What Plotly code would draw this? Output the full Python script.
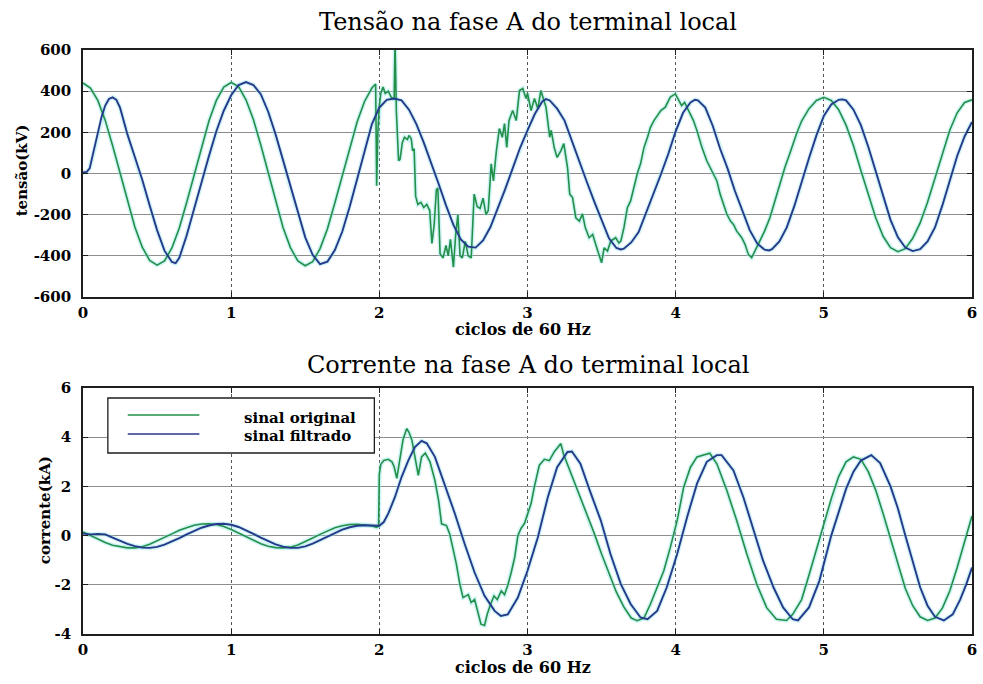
import plotly.graph_objects as go

# ---------------- data: phase-A voltage (kV) at the local terminal ----------------
volt_orig_t = [
    0.00, 0.05, 0.10, 0.15, 0.20, 0.25, 0.30, 0.35, 0.40, 0.45, 0.50, 0.55, 0.60, 0.65,
    0.70, 0.75, 0.80, 0.85, 0.90, 0.95, 1.00, 1.05, 1.10, 1.15, 1.20, 1.25, 1.30, 1.35,
    1.40, 1.45, 1.50, 1.55, 1.60, 1.65, 1.70, 1.75, 1.80, 1.85, 1.90, 1.95, 1.975, 1.982,
    1.99, 2.00, 2.01, 2.025, 2.04, 2.06, 2.08, 2.10, 2.106, 2.115, 2.13, 2.14, 2.155, 2.17,
    2.19, 2.20, 2.215, 2.225, 2.235, 2.245, 2.26, 2.28, 2.30, 2.32, 2.34, 2.355, 2.37, 2.385,
    2.395, 2.41, 2.43, 2.45, 2.465, 2.48, 2.50, 2.515, 2.53, 2.545, 2.56, 2.58, 2.60, 2.62,
    2.64, 2.66, 2.68, 2.70, 2.72, 2.735, 2.755, 2.77, 2.79, 2.80, 2.81, 2.83, 2.845, 2.86,
    2.875, 2.90, 2.924, 2.946, 2.968, 2.99, 3.00, 3.024, 3.047, 3.07, 3.09, 3.125, 3.15, 3.16,
    3.18, 3.20, 3.226, 3.245, 3.27, 3.285, 3.304, 3.326, 3.35, 3.371, 3.39, 3.416, 3.44, 3.46,
    3.483, 3.50, 3.517, 3.54, 3.562, 3.595, 3.617, 3.63, 3.651, 3.674, 3.696, 3.719, 3.741, 3.763,
    3.786, 3.81, 3.83, 3.853, 3.876, 3.90, 3.93, 3.964, 3.998, 4.02, 4.04, 4.06, 4.077, 4.10,
    4.12, 4.144, 4.177, 4.21, 4.245, 4.278, 4.30, 4.32, 4.345, 4.37, 4.39, 4.412, 4.446, 4.468,
    4.49, 4.513, 4.535, 4.569, 4.60, 4.636, 4.67, 4.70, 4.737, 4.77, 4.815, 4.85, 4.90, 4.95,
    5.00, 5.05, 5.10, 5.15, 5.20, 5.25, 5.30, 5.35, 5.40, 5.45, 5.50, 5.55, 5.60, 5.65,
    5.70, 5.75, 5.80, 5.85, 5.90, 5.95, 6.00,
]
volt_orig = [
    440, 415, 355, 258, 135, 0, -135, -260, -358, -422, -445, -425, -362, -265,
    -140, -5, 130, 255, 355, 420, 442, 422, 358, 262, 138, 2, -135, -262,
    -360, -425, -448, -428, -365, -268, -142, -8, 128, 250, 350, 415, 435, -60,
    200, 330, 390, 420, 389, 400, 371, 360, 650, 300, 62, 70, 150, 176,
    165, 185, 170, 110, 120, -110, -150, -140, -165, -150, -180, -340, -250, -80,
    -70, -390, -410, -350, -400, -320, -455, -300, -200, -400, -410, -330, -400, -410,
    -100, -160, -170, -120, -200, -180, 47, -36, 110, 176, 218, 176, 242, 127,
    257, 306, 257, 403, 413, 364, 390, 306, 364, 315, 403, 322, 176, 210,
    127, 78, 111, 145, 29, -100, -117, -215, -231, -196, -263, -312, -296, -344,
    -392, -434, -361, -377, -328, -312, -337, -328, -263, -166, -133, -68, 0, 47,
    127, 176, 224, 257, 280, 306, 322, 371, 387, 355, 330, 345, 322, 290,
    257, 208, 127, 62, 13, -36, -100, -148, -197, -231, -247, -280, -312, -344,
    -392, -409, -377, -328, -280, -215, -133, -52, 29, 96, 192, 255, 315, 355,
    370, 355, 310, 235, 135, 15, -105, -215, -305, -360, -380, -365, -315, -240,
    -140, -20, 100, 210, 295, 345, 358,
]

volt_filt_t = [
    0.00, 0.025, 0.045, 0.07, 0.10, 0.125, 0.15, 0.175, 0.20, 0.225, 0.25, 0.30, 0.35, 0.40,
    0.45, 0.50, 0.55, 0.60, 0.625, 0.65, 0.70, 0.75, 0.80, 0.85, 0.90, 0.95, 1.00, 1.05,
    1.10, 1.15, 1.20, 1.25, 1.30, 1.35, 1.40, 1.45, 1.50, 1.55, 1.60, 1.65, 1.70, 1.75,
    1.80, 1.85, 1.90, 1.95, 2.00, 2.05, 2.10, 2.15, 2.20, 2.25, 2.30, 2.35, 2.40, 2.45,
    2.50, 2.55, 2.60, 2.65, 2.70, 2.75, 2.80, 2.85, 2.90, 2.95, 3.00, 3.05, 3.10, 3.125,
    3.15, 3.20, 3.25, 3.30, 3.35, 3.40, 3.45, 3.50, 3.55, 3.60, 3.63, 3.65, 3.70, 3.75,
    3.80, 3.85, 3.90, 3.95, 4.00, 4.05, 4.10, 4.13, 4.15, 4.20, 4.25, 4.30, 4.35, 4.40,
    4.45, 4.50, 4.55, 4.60, 4.63, 4.65, 4.70, 4.75, 4.80, 4.85, 4.90, 4.95, 5.00, 5.05,
    5.10, 5.125, 5.15, 5.20, 5.25, 5.30, 5.35, 5.40, 5.45, 5.50, 5.55, 5.60, 5.65, 5.70,
    5.75, 5.80, 5.85, 5.90, 5.95, 6.00,
]
volt_filt = [
    5, 8, 25, 100, 200, 275, 330, 362, 370, 358, 320, 190, 80, -30,
    -155, -275, -375, -430, -436, -410, -300, -170, -45, 85, 205, 305, 380, 430,
    444, 430, 385, 300, 190, 65, -70, -195, -310, -395, -440, -428, -372, -282,
    -162, -28, 110, 240, 320, 358, 364, 355, 310, 240, 150, 55, -50, -155,
    -250, -320, -355, -360, -325, -260, -170, -75, 25, 125, 210, 290, 350, 362,
    355, 315, 257, 155, 55, -40, -135, -230, -315, -362, -369, -365, -335, -285,
    -195, -100, -5, 95, 205, 295, 345, 358, 355, 320, 232, 120, 25, -85,
    -185, -275, -340, -370, -374, -368, -330, -262, -160, -40, 75, 185, 280, 335,
    358, 360, 355, 310, 235, 130, 10, -115, -225, -310, -360, -377, -368, -330,
    -262, -155, -35, 85, 180, 250,
]

# ---------------- data: phase-A current (kA) at the local terminal ----------------
curr_orig_t = [
    0.00, 0.05, 0.10, 0.15, 0.20, 0.25, 0.30, 0.35, 0.40, 0.45, 0.50, 0.55, 0.60, 0.65,
    0.70, 0.75, 0.80, 0.85, 0.90, 0.95, 1.00, 1.05, 1.10, 1.15, 1.20, 1.25, 1.30, 1.35,
    1.40, 1.45, 1.50, 1.55, 1.60, 1.65, 1.70, 1.75, 1.80, 1.85, 1.90, 1.95, 1.98, 1.995,
    2.00, 2.01, 2.03, 2.06, 2.085, 2.10, 2.118, 2.14, 2.16, 2.185, 2.20, 2.22, 2.24, 2.263,
    2.285, 2.31, 2.342, 2.375, 2.40, 2.42, 2.453, 2.475, 2.50, 2.52, 2.543, 2.565, 2.60, 2.62,
    2.643, 2.665, 2.686, 2.71, 2.728, 2.75, 2.774, 2.796, 2.823, 2.845, 2.868, 2.89, 2.913, 2.935,
    2.957, 2.98, 3.00, 3.024, 3.047, 3.07, 3.08, 3.114, 3.147, 3.18, 3.20, 3.225, 3.244, 3.27,
    3.30, 3.35, 3.40, 3.45, 3.50, 3.55, 3.60, 3.65, 3.70, 3.74, 3.786, 3.83, 3.875, 3.92,
    3.964, 4.01, 4.054, 4.10, 4.144, 4.21, 4.23, 4.278, 4.345, 4.412, 4.48, 4.547, 4.614, 4.68,
    4.748, 4.79, 4.85, 4.90, 4.95, 5.00, 5.05, 5.10, 5.15, 5.20, 5.25, 5.30, 5.35, 5.40,
    5.45, 5.50, 5.55, 5.60, 5.65, 5.70, 5.75, 5.80, 5.85, 5.90, 5.95, 6.00,
]
curr_orig = [
    0.15, 0.00, -0.15, -0.28, -0.39, -0.46, -0.50, -0.50, -0.45, -0.35, -0.22, -0.08, 0.07, 0.22,
    0.33, 0.42, 0.47, 0.48, 0.45, 0.37, 0.25, 0.10, -0.05, -0.20, -0.33, -0.43, -0.49, -0.50,
    -0.47, -0.38, -0.25, -0.10, 0.05, 0.20, 0.32, 0.40, 0.45, 0.46, 0.44, 0.40, 0.33, 0.38,
    2.50, 2.90, 3.05, 3.10, 3.00, 2.80, 2.33, 3.20, 3.90, 4.35, 4.20, 3.88, 3.20, 2.45,
    3.20, 3.35, 3.00, 2.24, 1.43, 0.48, 0.41, 0.07, -0.61, -1.16, -1.97, -2.52, -2.40, -2.72,
    -2.60, -3.06, -3.60, -3.65, -3.20, -2.80, -2.45, -2.60, -2.25, -2.40, -2.00, -1.50, -0.90, 0.00,
    0.30, 0.50, 0.90, 1.30, 2.00, 2.65, 2.86, 3.10, 3.05, 3.40, 3.55, 3.74, 3.30, 2.90,
    2.40, 1.60, 0.85, 0.10, -0.75, -1.55, -2.30, -2.90, -3.35, -3.46, -3.35, -2.78, -2.10, -1.43,
    -0.48, 0.61, 1.97, 2.78, 3.20, 3.33, 3.35, 2.92, 1.84, 0.61, -0.75, -1.97, -2.93, -3.40,
    -3.45, -3.20, -2.60, -1.60, -0.55, 0.50, 1.50, 2.40, 3.00, 3.20, 3.10, 2.60, 1.85, 0.90,
    -0.15, -1.20, -2.15, -2.85, -3.30, -3.45, -3.35, -2.95, -2.25, -1.30, -0.25, 0.80,
]

curr_filt_t = [
    0.00, 0.05, 0.10, 0.15, 0.20, 0.25, 0.30, 0.35, 0.40, 0.45, 0.50, 0.55, 0.60, 0.65,
    0.70, 0.75, 0.80, 0.85, 0.90, 0.95, 1.00, 1.05, 1.10, 1.15, 1.20, 1.25, 1.30, 1.35,
    1.40, 1.45, 1.50, 1.55, 1.60, 1.65, 1.70, 1.75, 1.80, 1.85, 1.90, 1.95, 2.00, 2.03,
    2.06, 2.105, 2.15, 2.196, 2.24, 2.285, 2.32, 2.375, 2.44, 2.51, 2.576, 2.643, 2.71, 2.778,
    2.82, 2.867, 2.935, 3.00, 3.07, 3.137, 3.20, 3.27, 3.30, 3.357, 3.42, 3.495, 3.56, 3.63,
    3.696, 3.763, 3.81, 3.875, 3.94, 4.01, 4.077, 4.144, 4.21, 4.278, 4.31, 4.39, 4.457, 4.525,
    4.59, 4.66, 4.725, 4.79, 4.826, 4.90, 4.97, 5.05, 5.10, 5.15, 5.20, 5.25, 5.32, 5.38,
    5.45, 5.50, 5.55, 5.60, 5.65, 5.70, 5.75, 5.81, 5.87, 5.92, 5.96, 6.00,
]
curr_filt = [
    0.08, 0.05, 0.07, 0.05, -0.08, -0.22, -0.34, -0.43, -0.49, -0.50, -0.46, -0.37, -0.25, -0.10,
    0.05, 0.20, 0.32, 0.41, 0.47, 0.48, 0.44, 0.35, 0.22, 0.07, -0.08, -0.23, -0.36, -0.45,
    -0.50, -0.50, -0.44, -0.33, -0.19, -0.04, 0.11, 0.24, 0.34, 0.40, 0.42, 0.40, 0.40, 0.55,
    0.89, 1.56, 2.38, 3.06, 3.60, 3.85, 3.75, 3.20, 2.11, 0.89, -0.34, -1.50, -2.45, -3.06,
    -3.27, -3.20, -2.52, -1.43, -0.07, 1.56, 2.78, 3.40, 3.42, 2.92, 1.84, 0.61, -0.75, -1.97,
    -2.78, -3.33, -3.40, -3.06, -2.10, -0.75, 0.75, 2.11, 3.00, 3.27, 3.27, 2.65, 1.56, 0.20,
    -1.02, -2.10, -2.92, -3.40, -3.45, -2.92, -1.84, 0.00, 1.00, 1.90, 2.60, 3.05, 3.27, 2.95,
    2.00, 1.10, 0.00, -1.10, -2.10, -2.85, -3.30, -3.45, -3.20, -2.60, -2.00, -1.30,
]

x_ticks = [0, 1, 2, 3, 4, 5, 6]
x_tick_labels = ["0", "1", "2", "3", "4", "5", "6"]
volt_ticks = [-600, -400, -200, 0, 200, 400, 600]
volt_tick_labels = ["-600", "-400", "-200", "0", "200", "400", "600"]
curr_ticks = [-4, -2, 0, 2, 4, 6]
curr_tick_labels = ["-4", "-2", "0", "2", "4", "6"]

titles = ["Tensão na fase A do terminal local", "Corrente na fase A do terminal local"]
x_label = "ciclos de 60 Hz"
y_labels = ["tensão(kV)", "corrente(kA)"]
legend_names = ["sinal original", "sinal filtrado"]

# ---------------- styling ----------------
W, H = 983, 684
ML, MR, MT, MB = 83, 6, 50, 50
PW, PH = W - ML - MR, H - MT - MB


def px_x(px):
    return (px - ML) / PW


def px_y(py):
    return (H - MB - py) / PH


GREEN = "#23904a"
BLUE = "#27398a"
HALO = "rgba(150,228,232,0.45)"
SERIF = "DejaVu Serif"
tickfont = dict(family=SERIF, size=15, color="black", weight="bold")

fig = go.Figure()


def add_pair(t_o, y_o, t_f, y_f, xa, ya):
    for t, y in ((t_o, y_o), (t_f, y_f)):
        fig.add_trace(go.Scatter(x=t, y=y, mode="lines", xaxis=xa, yaxis=ya,
                                 line=dict(color=HALO, width=4.5), showlegend=False,
                                 hoverinfo="skip"))
    fig.add_trace(go.Scatter(x=t_o, y=y_o, mode="lines", xaxis=xa, yaxis=ya,
                             line=dict(color=GREEN, width=1.6), name=legend_names[0],
                             showlegend=False))
    fig.add_trace(go.Scatter(x=t_f, y=y_f, mode="lines", xaxis=xa, yaxis=ya,
                             line=dict(color=BLUE, width=1.9), name=legend_names[1],
                             showlegend=False))


add_pair(volt_orig_t, volt_orig, volt_filt_t, volt_filt, "x", "y")
add_pair(curr_orig_t, curr_orig, curr_filt_t, curr_filt, "x2", "y2")

frame = dict(showline=True, linecolor="#1e1e1e", linewidth=1.6, mirror="allticks",
             ticks="inside", ticklen=5, tickcolor="#1e1e1e", tickwidth=1,
             tickfont=tickfont, zeroline=False, showgrid=True)
xgrid = dict(gridcolor="#555555", griddash="dot", gridwidth=1)
ygrid = dict(gridcolor="#8d8d8d", gridwidth=1.3)

top_dom = [px_y(297), px_y(50)]
bot_dom = [px_y(634), px_y(388)]

fig.update_layout(
    width=W, height=H,
    margin=dict(l=ML, r=MR, t=MT, b=MB),
    paper_bgcolor="white", plot_bgcolor="white",
    showlegend=False,
    xaxis=dict(domain=[0, 1], range=[0, 6], tickvals=x_ticks, ticktext=x_tick_labels,
               anchor="y", ticklabelstandoff=1, **frame, **xgrid),
    yaxis=dict(domain=top_dom, range=[-600, 600], tickvals=volt_ticks,
               ticktext=volt_tick_labels, anchor="x", ticklabelstandoff=7, **frame, **ygrid),
    xaxis2=dict(domain=[0, 1], range=[0, 6], tickvals=x_ticks, ticktext=x_tick_labels,
                anchor="y2", ticklabelstandoff=1, **frame, **xgrid),
    yaxis2=dict(domain=bot_dom, range=[-4, 6], tickvals=curr_ticks,
                ticktext=curr_tick_labels, anchor="x2", ticklabelstandoff=7, **frame, **ygrid),
)

ann = []
# plot titles
for txt, py in zip(titles, (22, 365)):
    ann.append(dict(text=txt, x=0.5, y=px_y(py), xref="paper", yref="paper",
                    showarrow=False, xanchor="center", yanchor="middle",
                    font=dict(family=SERIF, size=24, color="black")))
# x-axis labels
for py in (329, 667):
    ann.append(dict(text=x_label, x=px_x(525), y=px_y(py), xref="paper", yref="paper",
                    showarrow=False, xanchor="center", yanchor="middle",
                    font=dict(family=SERIF, size=16, color="black", weight="bold")))
# y-axis labels
for txt, px, py in zip(y_labels, (22, 45), (170, 510)):
    ann.append(dict(text=txt, x=px_x(px), y=px_y(py), xref="paper", yref="paper",
                    showarrow=False, xanchor="center", yanchor="middle", textangle=-90,
                    font=dict(family=SERIF, size=15, color="black", weight="bold")))
# legend texts
for txt, py in zip(legend_names, (418, 436)):
    ann.append(dict(text=txt, x=px_x(243), y=px_y(py), xref="paper", yref="paper",
                    showarrow=False, xanchor="left", yanchor="middle",
                    font=dict(family=SERIF, size=15, color="black", weight="bold")))
fig.update_layout(annotations=ann)

# legend box with line keys
shapes = [dict(type="rect", xref="paper", yref="paper",
               x0=px_x(108), x1=px_x(376), y0=px_y(453), y1=px_y(398),
               line=dict(color="#1e1e1e", width=1.3), fillcolor="white", layer="above")]
for col, py in ((GREEN, 415), (BLUE, 434)):
    shapes.append(dict(type="line", xref="paper", yref="paper",
                       x0=px_x(128), x1=px_x(200), y0=px_y(py), y1=px_y(py),
                       line=dict(color=col, width=1.6), layer="above"))
fig.update_layout(shapes=shapes)

fig.write_html("out.html")
